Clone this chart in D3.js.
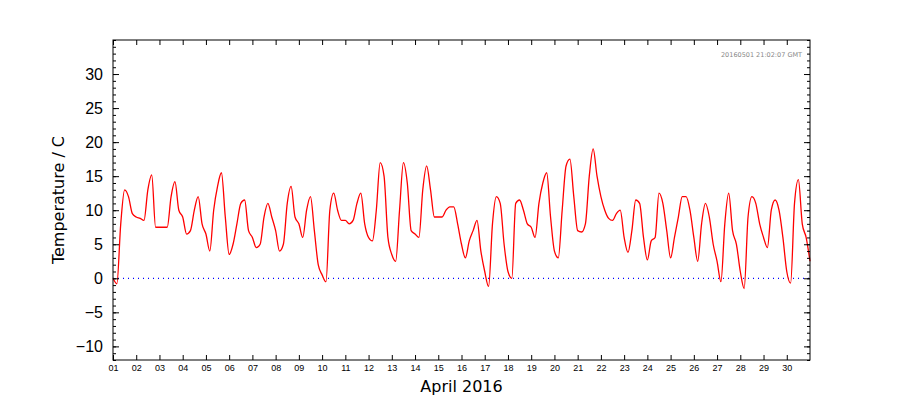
<!DOCTYPE html>
<html><head><meta charset="utf-8">
<script src="https://cdn.jsdelivr.net/npm/d3@7"></script>
<style>body{margin:0;background:#fff}svg{font-family:"DejaVu Sans",sans-serif}</style>
</head><body><svg id="c" width="900" height="400"></svg>
<script>
// temperature every 4 hours (00,04,08,12,16,20) for each day of April 2016
const days = d3.range(1,31);
const temps = [
  0,-0.8,8,13,12,9.5,
  9,8.8,8.5,13,15.2,7.5,
  7.5,7.5,7.5,12,14.2,10,
  9,6.5,7,10,12,8,
  6.5,4,10,13.5,15.5,9,
  3.5,5,8,11,11.5,7,
  6,4.5,5,9,11,9,
  7,4,5,11,13.5,9,
  8,6,10,12,7,2,
  0.5,-0.5,10,12.5,10,8.5,
  8.5,8,8.5,11,12.5,8,
  6,5.5,10,17,15,6,
  3.5,2.5,10,17,14,7,
  6.5,6,13,16.5,13,9,
  9,9,10,10.5,10.5,8,
  5,3,5.5,7,8.5,4,
  1,-1.2,8,12,11,5,
  1,0,11,11.5,10,8,
  7.5,6,11,14,15.5,9,
  4,3,10,16.5,17.5,12,
  7,6.8,8,15,19,15,
  12,10,8.8,8.5,9.5,10,
  6,3.8,7,11.5,11,6,
  2.7,5.5,6,12.5,11,7,
  3,6,9,12,12,10,
  6,2.5,8,11,9,5,
  2.5,-0.5,8,12.5,7,5,
  1,-1.5,9,12,11,8,
  6,4.5,10,11.5,10,6,
  1,-0.7,11,14.5,8,6,
  2.5
];
const hours = [0,4,8,12,16,20];
const yTicks = [-10,-5,0,5,10,15,20,25,30];
const points = temps.map((v,i)=>({t:new Date(Date.UTC(2016,3,1,i*4)), v}));

const svg=d3.select("#c");
const L=113,R=810,T=40,B=360;
const x=d3.scaleUtc().domain([new Date(Date.UTC(2016,3,1)),new Date(Date.UTC(2016,4,1))]).range([L,R]);
const y=d3.scaleLinear().domain([-12,35]).range([B,T]);

svg.append("line").attr("x1",L).attr("x2",R).attr("y1",y(0)).attr("y2",y(0))
  .attr("stroke","#00f").attr("stroke-dasharray","1,4").attr("stroke-width",1.3);

svg.append("path").datum(points).attr("fill","none").attr("stroke","#f00").attr("stroke-width",1.3)
  .attr("d",d3.line().x(d=>x(d.t)).y(d=>y(d.v)).curve(d3.curveMonotoneX));

svg.append("rect").attr("x",L).attr("y",T).attr("width",R-L).attr("height",B-T).attr("fill","none").attr("stroke","#000");

const dayDates = days.map(d=>new Date(Date.UTC(2016,3,d)));
const xb=svg.append("g").attr("transform",`translate(0,${B})`)
  .call(d3.axisBottom(x).tickValues(dayDates).tickFormat(d3.utcFormat("%d")).tickSizeInner(-5).tickSizeOuter(0).tickPadding(5));
xb.select(".domain").remove(); xb.selectAll("text").attr("font-size",9);
const xt=svg.append("g").attr("transform",`translate(0,${T})`)
  .call(d3.axisTop(x).tickValues(dayDates).tickFormat("").tickSizeInner(-5).tickSizeOuter(0));
xt.select(".domain").remove();

const minor=d3.range(-12,36);
[["l",L],["r",R]].forEach(([s,px])=>{
  const ax = s=="l"?d3.axisLeft(y):d3.axisRight(y);
  const gm=svg.append("g").attr("transform",`translate(${px},0)`).call(ax.tickValues(minor).tickFormat("").tickSizeInner(-3).tickSizeOuter(0));
  gm.select(".domain").remove();
  const ax2 = s=="l"?d3.axisLeft(y):d3.axisRight(y);
  const g=svg.append("g").attr("transform",`translate(${px},0)`).call(ax2.tickValues(yTicks).tickFormat(s=="l"?(d=>d<0?"\u2212"+(-d):d):"").tickSizeInner(-6).tickSizeOuter(0).tickPadding(10));
  g.select(".domain").remove(); g.selectAll("text").attr("font-size",16);
});

svg.append("text").attr("x",(L+R)/2).attr("y",392).attr("text-anchor","middle").attr("font-size",16).text("April 2016");
svg.append("text").attr("transform","translate(64,200) rotate(-90)").attr("text-anchor","middle").attr("font-size",16).text("Temperature / C");
svg.append("text").attr("x",802).attr("y",57).attr("text-anchor","end").attr("font-size",6.5).attr("fill","#888").text("20160501 21:02:07 GMT");
</script></body></html>
